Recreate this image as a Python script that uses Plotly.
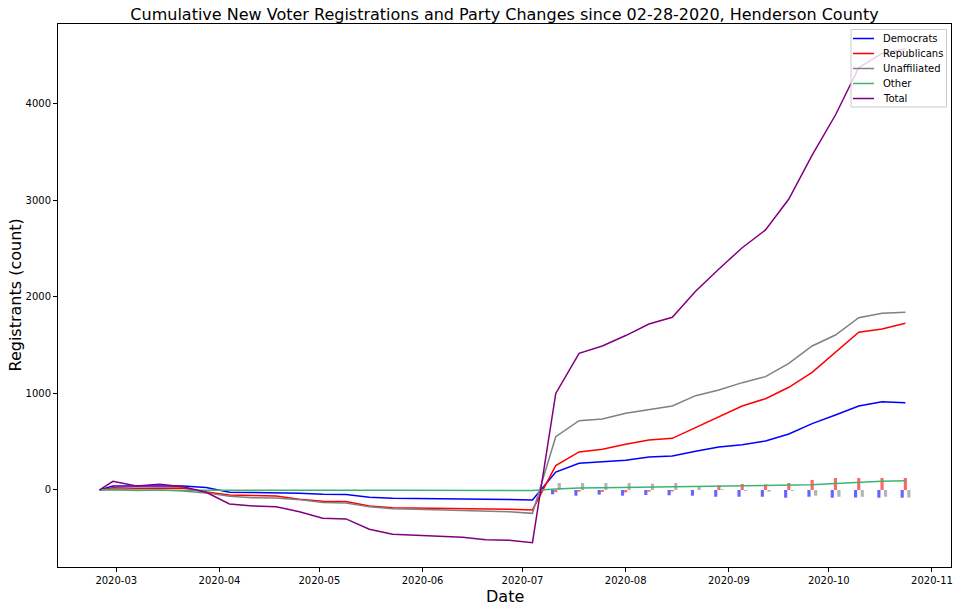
import plotly.graph_objects as go
import pandas as pd

dates = ["2020-02-25", "2020-02-29", "2020-03-07", "2020-03-14", "2020-03-21", "2020-03-28",
         "2020-04-04", "2020-04-11", "2020-04-18", "2020-04-25", "2020-05-02", "2020-05-09",
         "2020-05-16", "2020-05-23", "2020-05-30", "2020-06-06", "2020-06-13", "2020-06-20",
         "2020-06-27", "2020-07-04", "2020-07-11", "2020-07-18", "2020-07-25", "2020-08-01",
         "2020-08-08", "2020-08-15", "2020-08-22", "2020-08-29", "2020-09-05", "2020-09-12",
         "2020-09-19", "2020-09-26", "2020-10-03", "2020-10-10", "2020-10-17", "2020-10-24"]

democrats = [0, 41, 40, 42, 40, 25, -24, -25, -28, -35, -45, -48, -76, -86, -88, -90, -90, -97, -98, -104,
             186, 276, 293, 308, 342, 352, 401, 445, 469, 508, 580, 687, 777, 870, 915, 904]
republicans = [0, 22, 18, 22, 20, -20, -52, -58, -62, -96, -117, -120, -166, -183, -185, -190, -192, -198, -200, -207,
               252, 394, 421, 473, 518, 535, 645, 753, 870, 946, 1064, 1219, 1426, 1634, 1668, 1727]
unaffiliated = [0, 8, -5, 0, -10, -30, -65, -80, -82, -100, -130, -135, -175, -195, -200, -205, -210, -220, -225, -242,
                552, 718, 736, 795, 829, 870, 977, 1036, 1112, 1174, 1312, 1492, 1606, 1785, 1830, 1841]
other = [0, 2, 0, -2, -3, -4, -4, -4, -4, -4, -4, -4, -4, -4, -4, -4, -4, -4, -4, -5,
         10, 21, 24, 27, 32, 34, 36, 40, 44, 47, 50, 54, 67, 80, 90, 96]
total = [0, 90, 41, 59, 34, -24, -145, -166, -173, -225, -293, -300, -407, -459, -469, -480, -490, -515, -521, -546,
         1000, 1416, 1492, 1600, 1720, 1790, 2060, 2290, 2510, 2694, 3015, 3470, 3885, 4375, 4524, 4569]

# weekly party changes (bars), from 2020-07-11 onward
change_dates = dates[20:]
dem_change = [-45, -59, -48, -59, -52, -55, -59, -70, -70, -70, -80, -70, -80, -78, -80, -80]
rep_change = [-22, -18, -20, -25, -18, -15, 0, 48, 62, 58, 72, 104, 124, 124, 124, 124]
unaff_change = [72, 72, 72, 72, 65, 72, 38, 8, -10, -18, -10, -59, -70, -70, -70, -78]

series_names = ["Democrats", "Republicans", "Unaffiliated", "Other", "Total"]
series_colors = ["#0000ff", "#ff0000", "#808080", "#3cb371", "#800080"]

DAY = 86400000
cd = pd.to_datetime(change_dates)

fig = go.Figure()
bar_specs = [(dem_change, "rgba(0,0,255,0.6)", -0.95), (rep_change, "rgba(255,0,0,0.6)", 0.0),
             (unaff_change, "rgba(128,128,128,0.6)", 1.05)]
for vals, col, off in bar_specs:
    fig.add_trace(go.Bar(x=cd + pd.Timedelta(days=off), y=vals, width=0.95 * DAY,
                         marker=dict(color=col, line=dict(width=0)), showlegend=False,
                         hoverinfo="skip"))

for name, vals, col in zip(series_names, [democrats, republicans, unaffiliated, other, total], series_colors):
    fig.add_trace(go.Scatter(x=pd.to_datetime(dates), y=vals, mode="lines", name=name,
                             line=dict(color=col, width=1.5), showlegend=False))

# page pixel geometry (body margin removed below, so page pixels == figure pixels)
W, H = 960, 611
L, R, T, B = 58, 951, 24, 567
def px(x):
    return (x - L) / (R - L)
def py(y):
    return (B - y) / (B - T)

font_family = "DejaVu Sans"
annotations = [
    dict(text="Date", x=px(504.5), y=py(596), xref="paper", yref="paper", showarrow=False,
         xanchor="center", yanchor="middle", font=dict(size=16)),
    dict(text="Registrants (count)", x=px(15), y=py(295.5), xref="paper", yref="paper", showarrow=False,
         textangle=-90, xanchor="center", yanchor="middle", font=dict(size=16)),
]
shapes = [dict(type="rect", xref="paper", yref="paper", x0=px(851), x1=px(946.5), y0=py(107), y1=py(29.5),
               fillcolor="rgba(255,255,255,0.8)", line=dict(color="#cccccc", width=1), layer="above")]
row_y = [38.5, 53.5, 68.5, 83.5, 98.5]
for name, col, yy in zip(series_names, series_colors, row_y):
    shapes.append(dict(type="line", xref="paper", yref="paper", x0=px(853), x1=px(874), y0=py(yy), y1=py(yy),
                       line=dict(color=col, width=1.5), layer="above"))
    annotations.append(dict(text=name, x=px(881), y=py(yy), xref="paper", yref="paper", showarrow=False,
                            xanchor="left", yanchor="middle", font=dict(size=10)))

fig.update_layout(
    width=W, height=H,
    margin=dict(l=L, r=W - R, t=T, b=H - B),
    paper_bgcolor="white", plot_bgcolor="white",
    font=dict(family=font_family, size=10, color="black"),
    title=dict(text="Cumulative New Voter Registrations and Party Changes since 02-28-2020, Henderson County",
               x=0.5 * (L + R) / W, xref="container", xanchor="center", y=1 - 14 / H, yref="container",
               yanchor="middle", font=dict(size=16, color="black")),
    barmode="overlay",
    showlegend=False,
    annotations=annotations,
    shapes=shapes,
)
fig.update_xaxes(
    range=["2020-02-12 12:00", "2020-11-06 17:00"],
    tickformat="%Y-%m", dtick="M1", tick0="2020-03-01", ticklabeloverflow="allow",
    showgrid=False, zeroline=False, showline=True, linecolor="black", linewidth=1, mirror=True,
    ticks="outside", ticklen=4, tickwidth=1, tickcolor="black", automargin=False,
)
fig.update_yaxes(
    range=[-798, 4828], tickvals=[0, 1000, 2000, 3000, 4000],
    showgrid=False, zeroline=False, showline=True, linecolor="black", linewidth=1, mirror=True,
    ticks="outside", ticklen=4, tickwidth=1, tickcolor="black", automargin=False,
)
fig.write_html("out.html", config={"displayModeBar": False},
               post_script="document.body.style.margin='0px';")
